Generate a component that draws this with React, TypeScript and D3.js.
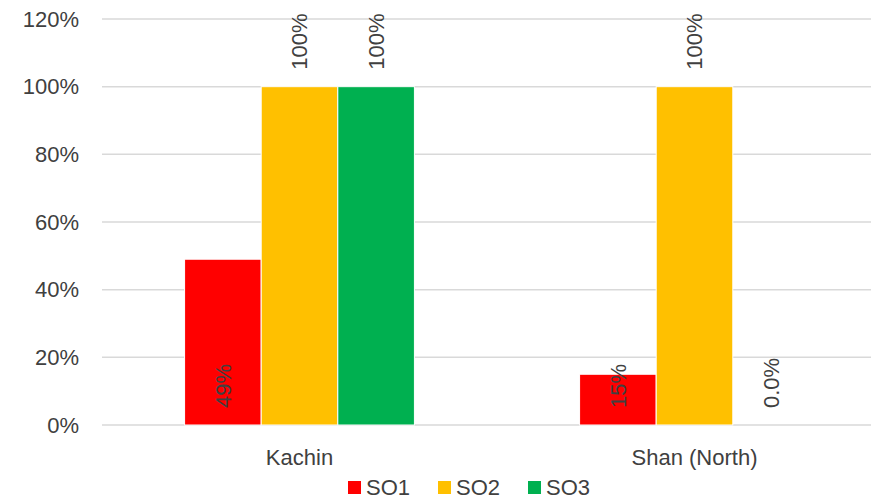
import React, { useRef, useEffect } from "react";
import * as d3 from "d3";

const categories = ["Kachin", "Shan (North)"];
const seriesNames = ["SO1", "SO2", "SO3"];
const seriesColors = ["#ff0000", "#ffc000", "#00b050"];
// values as fractions, one array per series (same order as categories)
const so1 = [0.49, 0.15];
const so2 = [1.0, 1.0];
const so3 = [1.0, 0.0];
const labelText = [
  ["49%", "15%"],
  ["100%", "100%"],
  ["100%", "0.0%"],
];
const yTicks = [0, 0.2, 0.4, 0.6, 0.8, 1.0, 1.2];

const W = 871;
const H = 500;

const App: React.FC = () => {
  const ref = useRef<SVGSVGElement | null>(null);

  useEffect(() => {
    const svg = d3.select(ref.current);
    svg.selectAll("*").remove();

    const font = "'Liberation Sans', Arial, sans-serif";
    const textColor = "#404040";
    const fs = 22;
    const values = [so1, so2, so3];

    const x0 = d3.scaleBand().domain(categories).range([102, 892]).paddingInner(0).paddingOuter(0);
    const x1 = d3
      .scaleBand()
      .domain(seriesNames)
      .range([0, x0.bandwidth()])
      .paddingOuter(1.078)
      .paddingInner(0);
    const y = d3.scaleLinear().domain([0, 1.2]).range([425, 19]);

    // gridlines
    svg
      .append("g")
      .selectAll("line")
      .data(yTicks)
      .join("line")
      .attr("x1", 102)
      .attr("x2", W)
      .attr("y1", (d) => y(d))
      .attr("y2", (d) => y(d))
      .attr("stroke", "#d9d9d9")
      .attr("stroke-width", 1.5);

    // y tick labels
    svg
      .append("g")
      .selectAll("text")
      .data(yTicks)
      .join("text")
      .attr("x", 79)
      .attr("y", (d) => y(d))
      .attr("dy", "0.35em")
      .attr("text-anchor", "end")
      .attr("font-family", font)
      .attr("font-size", fs)
      .attr("fill", textColor)
      .text((d) => `${Math.round(d * 100)}%`);

    // bars
    seriesNames.forEach((s, si) => {
      const g = svg.append("g");
      categories.forEach((c, ci) => {
        const v = values[si][ci];
        const bx = (x0(c) as number) + (x1(s) as number);
        const bw = x1.bandwidth();
        if (v > 0) {
          g.append("rect")
            .attr("x", bx)
            .attr("y", y(v))
            .attr("width", bw)
            .attr("height", y(0) - y(v))
            .attr("fill", seriesColors[si])
            .attr("stroke", "#fff")
            .attr("stroke-width", 1);
        }
        // data label, rotated
        const lx = bx + bw / 2;
        const ly = v >= 1 ? y(v) - 17 : y(0) - 17;
        g.append("text")
          .attr("transform", `translate(${lx},${ly}) rotate(-90)`)
          .attr("dy", "0.35em")
          .attr("text-anchor", "start")
          .attr("font-family", font)
          .attr("font-size", fs)
          .attr("fill", textColor)
          .text(labelText[si][ci]);
      });
    });

    // category labels
    svg
      .append("g")
      .selectAll("text")
      .data(categories)
      .join("text")
      .attr("x", (d) => (x0(d) as number) + x0.bandwidth() / 2)
      .attr("y", 465)
      .attr("text-anchor", "middle")
      .attr("font-family", font)
      .attr("font-size", fs)
      .attr("fill", textColor)
      .text((d) => d);

    // legend
    const legend = svg.append("g");
    seriesNames.forEach((s, i) => {
      const lx = 348 + i * 90;
      legend
        .append("rect")
        .attr("x", lx)
        .attr("y", 481)
        .attr("width", 13)
        .attr("height", 13)
        .attr("fill", seriesColors[i]);
      legend
        .append("text")
        .attr("x", lx + 18)
        .attr("y", 495)
        .attr("font-family", font)
        .attr("font-size", fs)
        .attr("fill", textColor)
        .text(s);
    });
  }, []);

  return (
    <svg
      ref={ref}
      width={W}
      height={H}
      style={{ position: "absolute", left: 0, top: 0, background: "#fff" }}
    />
  );
};

export default App;
